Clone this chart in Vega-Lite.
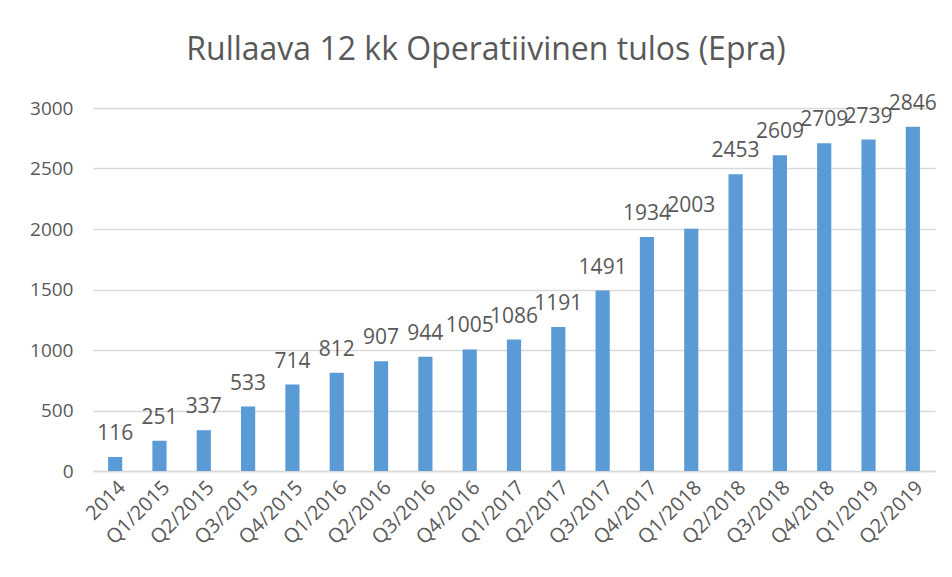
{
  "$schema": "https://vega.github.io/schema/vega-lite/v6.json",
  "autosize": {"type": "none"},
  "padding": {"left": 93, "top": 108, "right": 17, "bottom": 106},
  "width": 842,
  "height": 363,
  "background": "white",
  "config": {
    "font": "Open Sans",
    "view": {"stroke": null}
  },
  "title": {
    "text": "Rullaava 12 kk Operatiivinen tulos (Epra)",
    "fontSize": 32,
    "fontWeight": "normal",
    "font": "Open Sans",
    "color": "#595959",
    "anchor": "middle",
    "dx": -28,
    "offset": 26
  },
  "data": {
    "values": [
      {"period": "2014", "value": 116},
      {"period": "Q1/2015", "value": 251},
      {"period": "Q2/2015", "value": 337},
      {"period": "Q3/2015", "value": 533},
      {"period": "Q4/2015", "value": 714},
      {"period": "Q1/2016", "value": 812},
      {"period": "Q2/2016", "value": 907},
      {"period": "Q3/2016", "value": 944},
      {"period": "Q4/2016", "value": 1005},
      {"period": "Q1/2017", "value": 1086},
      {"period": "Q2/2017", "value": 1191},
      {"period": "Q3/2017", "value": 1491},
      {"period": "Q4/2017", "value": 1934},
      {"period": "Q1/2018", "value": 2003},
      {"period": "Q2/2018", "value": 2453},
      {"period": "Q3/2018", "value": 2609},
      {"period": "Q4/2018", "value": 2709},
      {"period": "Q1/2019", "value": 2739},
      {"period": "Q2/2019", "value": 2846}
    ]
  },
  "encoding": {
    "x": {
      "field": "period",
      "type": "nominal",
      "sort": null,
      "title": null,
      "scale": {"paddingInner": 0.68, "paddingOuter": 0.34},
      "axis": {
        "labelAngle": -45,
        "labelFontSize": 20,
        "labelColor": "#595959",
        "labelPadding": 6,
        "ticks": false,
        "domainColor": "#d9d9d9",
        "domainWidth": 1.5
      }
    },
    "y": {
      "field": "value",
      "type": "quantitative",
      "title": null,
      "scale": {"domain": [0, 3000], "nice": false},
      "axis": {
        "values": [0, 500, 1000, 1500, 2000, 2500, 3000],
        "format": "d",
        "labelFontSize": 19,
        "labelColor": "#595959",
        "labelPadding": 20,
        "ticks": false,
        "domain": false,
        "gridColor": "#d9d9d9",
        "gridWidth": 1.5
      }
    }
  },
  "layer": [
    {"mark": {"type": "bar", "color": "#5b9bd5"}},
    {
      "mark": {
        "type": "text",
        "baseline": "alphabetic",
        "dy": -17,
        "fontSize": 21,
        "color": "#595959"
      },
      "encoding": {"text": {"field": "value", "type": "quantitative", "format": "d"}}
    }
  ]
}
